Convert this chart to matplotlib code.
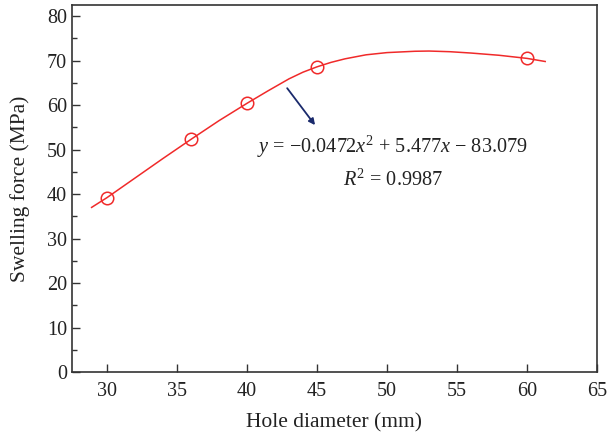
import matplotlib.pyplot as plt
from matplotlib.ticker import MultipleLocator

# measured swelling force at each hole diameter
hole_mm = [30, 36, 40, 45, 60]
force_mpa = [39.2, 52.3, 60.4, 68.6, 70.5]

# smooth fitted curve, sampled along its length
curve_x = [28.9, 30, 32, 34, 36, 38, 40, 41.5, 43, 44, 45, 46, 47, 48.5,
           50, 52, 53, 54.5, 56, 58, 60, 61.3]
curve_y = [37.0, 39.2, 43.6, 48.0, 52.3, 56.5, 60.4, 63.2, 65.9, 67.4, 68.6,
           69.6, 70.4, 71.3, 71.8, 72.1, 72.15, 72.0, 71.7, 71.2, 70.5, 69.8]

plt.rcParams['font.family'] = ['Liberation Serif', 'DejaVu Serif']
plt.rcParams['mathtext.fontset'] = 'custom'
plt.rcParams['mathtext.rm'] = 'Liberation Serif'
plt.rcParams['mathtext.it'] = 'Liberation Serif:italic'

fig = plt.figure(figsize=(6.08, 4.36), dpi=100)
ax = fig.add_axes([72 / 608, 1 - 372 / 436, (597 - 72) / 608, (372 - 5) / 436])

red = '#f02a2a'
ax.plot(curve_x, curve_y, color=red, lw=1.1)
ax.plot(hole_mm, force_mpa, 'o', mfc='none', mec=red, ms=9, mew=1.1)

ax.annotate('', xy=(44.86, 55.5), xytext=(42.87, 63.8),
            arrowprops=dict(arrowstyle='-|>', color='#1a2a6c', lw=1.3,
                            mutation_scale=9, shrinkA=0, shrinkB=0))
ax.text(50.4, 50.6, '$y$ = \u22120.0472$x^{2}$ + 5.477$x$ \u2212 83.079',
        ha='center', va='center', fontsize=14.6, color='#222222')
ax.text(50.4, 43.1, '$R^{2}$ = 0.9987', ha='center', va='center',
        fontsize=14.6, color='#222222')

ax.set_xlim(27.5, 65)
ax.set_ylim(0, 82.5)
ax.xaxis.set_major_locator(MultipleLocator(5))
ax.yaxis.set_major_locator(MultipleLocator(10))
ax.yaxis.set_minor_locator(MultipleLocator(5))
ax.tick_params(direction='in', length=6, width=1, color='#333333',
               labelsize=14.5, labelcolor='#222222')
ax.tick_params(axis='y', which='minor', direction='in', length=3.5, width=1, color='#333333')
ax.tick_params(axis='x', pad=7)
for s in ax.spines.values():
    s.set_color('#333333')
    s.set_linewidth(1.2)

ax.set_xlabel('Hole diameter (mm)', fontsize=15.5, color='#222222', labelpad=9)
ax.set_ylabel('Swelling force (MPa)', fontsize=15.5, color='#222222', labelpad=12)

fig.savefig('out.png', dpi=100)
